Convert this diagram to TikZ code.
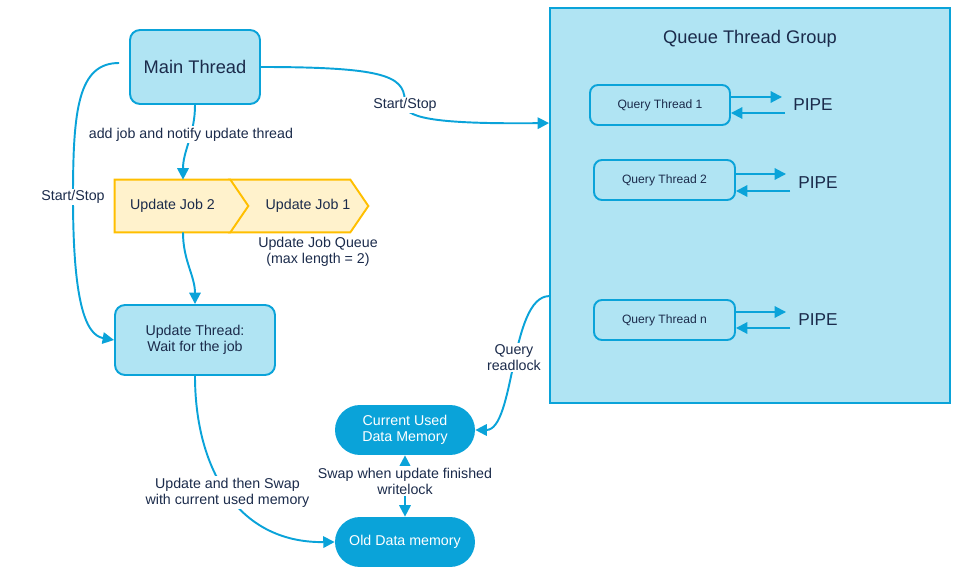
\documentclass[tikz,border=0pt]{standalone}
\usepackage{fontspec}
\setmainfont{Liberation Sans}
\usetikzlibrary{calc}
\usetikzlibrary{positioning}
\usetikzlibrary{arrows.meta}
\definecolor{lineblue}{HTML}{0AA3D9}
\definecolor{paleblue}{HTML}{B0E4F3}
\definecolor{jobfill}{HTML}{FFF2CC}
\definecolor{jobline}{HTML}{FFBF00}
\definecolor{inkblue}{HTML}{1B2B4B}
\tikzstyle{threadnode} = [draw=lineblue, fill=paleblue, line width=1.1pt, rounded corners=0.2cm, text=inkblue, align=center]
\tikzstyle{groupnode} = [draw=lineblue, fill=paleblue, line width=1.1pt, minimum width=8cm, minimum height=7.9cm]
\tikzstyle{querynode} = [draw=lineblue, line width=1.1pt, rounded corners=0.16cm, minimum height=0.8cm, text=inkblue, font=\fontsize{6.9}{8}\selectfont]
\tikzstyle{memnode} = [fill=lineblue, rounded corners=0.5cm, minimum width=2.8cm, minimum height=1cm, text=white, align=center, font=\fontsize{8.1}{9.1}\selectfont]
\tikzstyle{jobnode} = [minimum height=1.04cm, text=inkblue, font=\fontsize{8.1}{9.1}\selectfont]
\tikzstyle{jobshape} = [draw=jobline, fill=jobfill, line width=1.1pt, line join=miter]
\tikzstyle{lbl} = [fill=white, inner sep=1pt, text=inkblue, align=center, font=\fontsize{8.1}{9.1}\selectfont]
\tikzstyle{pipelbl} = [inner sep=0pt, text=inkblue, font=\fontsize{9.8}{11}\selectfont]
\tikzstyle{conn} = [draw=lineblue, line width=1.1pt, >={Triangle[length=6.5pt,width=6.5pt]}]

\begin{document}
\begin{tikzpicture}[x=0.02cm, y=-0.02cm]
    \useasboundingbox (0,0) rectangle (970,587);

    % query side
    \node[groupnode] (grp) at (750,205.5) {};
    \node[text=inkblue, font=\fontsize{10.4}{12}\selectfont] (grp_title) at ($(grp.north)+(0,32)$) {Queue Thread Group};
    \node[querynode, minimum width=2.8cm] (qt_one) at (660,105) {Query Thread 1};
    \node[querynode, minimum width=2.82cm] (qt_two) at (664.5,180) {Query Thread 2};
    \node[querynode, minimum width=2.82cm] (qt_n) at (664.5,320) {Query Thread n};
    \node[pipelbl] (pipe_one) at (813,105) {PIPE};
    \node[pipelbl] (pipe_two) at (818,183) {PIPE};
    \node[pipelbl] (pipe_n) at (818,320) {PIPE};
    \draw[conn,->] ($(qt_one.east)+(0,-8)$) -- ($(pipe_one.west)+(-11,-8)$);
    \draw[conn,->] ($(pipe_one.west)+(-8,8)$) -- ($(qt_one.east)+(0,8)$);
    \draw[conn,->] ($(qt_two.east)+(0,-6)$) -- ($(pipe_two.west)+(-12,-9)$);
    \draw[conn,->] ($(pipe_two.west)+(-8,8)$) -- ($(qt_two.east)+(0,11)$);
    \draw[conn,->] ($(qt_n.east)+(0,-8)$) -- ($(pipe_n.west)+(-12,-8)$);
    \draw[conn,->] ($(pipe_n.west)+(-8,8)$) -- ($(qt_n.east)+(0,8)$);

    % update side
    \node[threadnode, minimum width=2.6cm, minimum height=1.48cm, font=\fontsize{10.4}{12}\selectfont] (main) at (195,67) {Main Thread};
    \node[jobnode, minimum width=2.3cm] (job_two) at (172.5,206) {};
    \node[jobnode, minimum width=2.4cm] (job_one) at (308,206) {};
    \draw[jobshape] ($(job_one.north west)+(-18,0)$) -- ($(job_one.north east)+(-18,0)$) -- (job_one.east)
        -- ($(job_one.south east)+(-18,0)$) -- ($(job_one.south west)+(-18,0)$) -- (job_one.west) -- cycle;
    \draw[jobshape] (job_two.north west) -- (job_two.north east) -- ($(job_two.east)+(18,0)$)
        -- (job_two.south east) -- (job_two.south west) -- cycle;
    \node[jobnode] at (job_two) {Update Job 2};
    \node[jobnode] at (job_one) {Update Job 1};
    \node[lbl, fill=none] (queue_lbl) at ($(job_one.south)+(10,19)$) {Update Job Queue\\(max length = 2)};
    \coordinate (job_in) at ($(job_two.north)+(10.5,0)$);
    \coordinate (job_out) at ($(job_two.south)+(10.5,0)$);
    \node[threadnode, minimum width=3.2cm, minimum height=1.4cm, font=\fontsize{8.1}{9.1}\selectfont] (upd) at (195,340) {Update Thread:\\Wait for the job};

    \node[memnode] (cur_mem) at (405,430) {Current Used\\Data Memory};
    \node[memnode] (old_mem) at (405,542) {Old Data memory};

    \coordinate (ms_start) at ($(main.west)+(-10,-4)$);
    \coordinate (grp_in) at ($(grp.north west)+(0,116)$);
    \coordinate (grp_out) at ($(grp.north west)+(0,289)$);

    \draw[conn,->] (main.south) to[out=-90,in=90] node[lbl,pos=0.39] {add job and notify update thread} (job_in);
    \draw[conn,->] (job_out) to[out=-90,in=90] (upd.north);
    \draw[conn,->] (main.east) .. controls (395,67) and (405,78) .. (405,105) node[lbl] {Start/Stop}
        .. controls (405,120) and (450,124) .. (grp_in);
    \draw[conn,->] (ms_start) .. controls (78,63) and (73,110) .. (73,197) node[lbl] {Start/Stop}
        .. controls (73,300) and (85,335) .. (upd.west);
    \draw[conn,->] (upd.south) .. controls (195,465) and (235,543) .. node[lbl,pos=0.5] {Update and then Swap\\with current used memory} (old_mem.west);
    \draw[conn,->] (grp_out) .. controls (510,297) and (515,430) .. node[lbl,pos=0.47] {Query\\readlock} (cur_mem.east);
    \draw[conn,<->] (cur_mem.south) -- node[lbl,pos=0.42] {Swap when update finished\\writelock} (old_mem.north);
\end{tikzpicture}
\end{document}
